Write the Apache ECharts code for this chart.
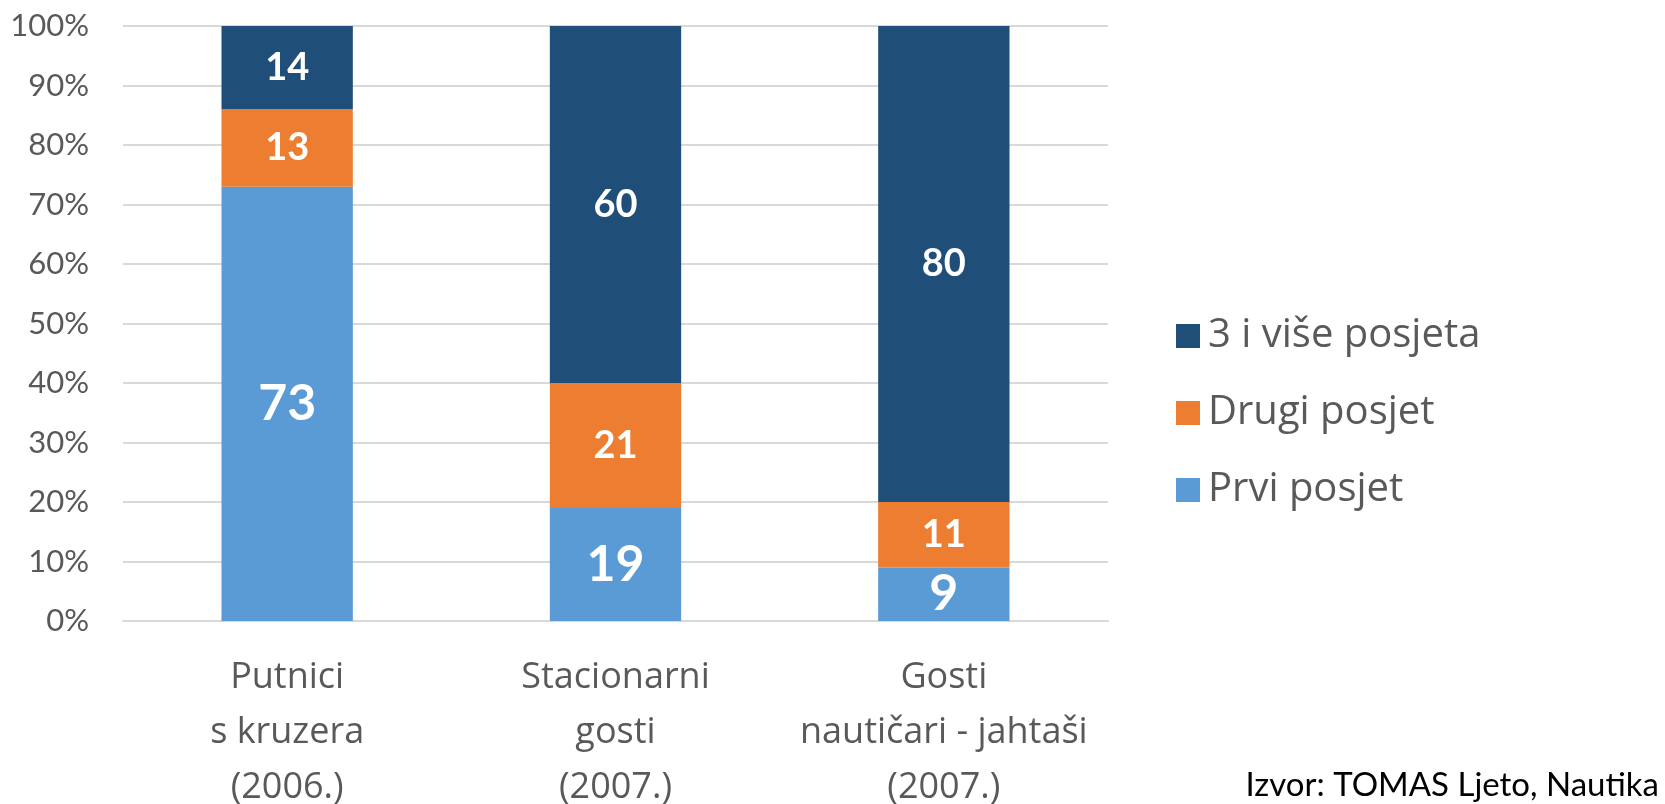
<!DOCTYPE html>
<html>
<head>
<meta charset="utf-8">
<script src="https://cdn.jsdelivr.net/npm/echarts@6/dist/echarts.min.js"></script>
<style>
  html, body { margin: 0; padding: 0; background: #fff; }
  #chart { width: 1665px; height: 804px; }
</style>
</head>
<body>
<div id="chart"></div>
<script>
const categories = ["Putnici\ns kruzera\n(2006.)", "Stacionarni\ngosti\n(2007.)", "Gosti\nnautičari - jahtaši\n(2007.)"];
const prviPosjet = [73, 19, 9];
const drugiPosjet = [13, 21, 11];
const triIVise = [14, 60, 80];
const yTicks = { min: 0, max: 100, step: 10 };

const FONT = "Lato, 'Open Sans', sans-serif";
const WIDE = "'Open Sans', Lato, sans-serif";
const chart = echarts.init(document.getElementById("chart"), null, { renderer: "canvas" });

const segLabel = size => ({
  show: true, position: "inside", color: "#fff",
  fontFamily: FONT, fontWeight: "bold", fontSize: size
});

chart.setOption({
  animation: false,
  textStyle: { fontFamily: FONT },
  grid: { left: 123, right: 557, top: 26, bottom: 183, containLabel: false, outerBoundsMode: "none" },
  legend: {
    orient: "vertical", left: 1171, top: 309,
    itemWidth: 24, itemHeight: 24, itemGap: 33,
    icon: "rect",
    data: ["3 i više posjeta", "Drugi posjet", "Prvi posjet"],
    textStyle: { color: "#595959", fontSize: 40, lineHeight: 44, fontFamily: WIDE, padding: [0, 0, 0, 3] }
  },
  xAxis: {
    type: "category", data: categories,
    axisLine: { lineStyle: { color: "#d9d9d9", width: 2 } },
    axisTick: { show: false },
    axisLabel: { interval: 0, color: "#595959", fontSize: 36, lineHeight: 55, margin: 29, fontFamily: WIDE }
  },
  yAxis: {
    type: "value", min: yTicks.min, max: yTicks.max, interval: yTicks.step,
    axisLine: { show: false }, axisTick: { show: false },
    axisLabel: { color: "#595959", fontSize: 31, margin: 34, formatter: "{value}%", fontFamily: FONT },
    splitLine: { lineStyle: { color: "#d9d9d9", width: 2 } }
  },
  series: [
    { name: "Prvi posjet", type: "bar", stack: "a", barWidth: "40%", data: prviPosjet,
      itemStyle: { color: "#5b9bd5" }, label: segLabel(50) },
    { name: "Drugi posjet", type: "bar", stack: "a", data: drugiPosjet,
      itemStyle: { color: "#ed7d31" }, label: segLabel(38) },
    { name: "3 i više posjeta", type: "bar", stack: "a", data: triIVise,
      itemStyle: { color: "#1f4e79" }, label: segLabel(38) }
  ],
  graphic: [{
    type: "text", right: 6, top: 769,
    style: { text: "Izvor: TOMAS Ljeto, Nautika", fill: "#000", fontSize: 33, fontFamily: FONT }
  }]
});

window.addEventListener("resize", () => chart.resize());
</script>
</body>
</html>
